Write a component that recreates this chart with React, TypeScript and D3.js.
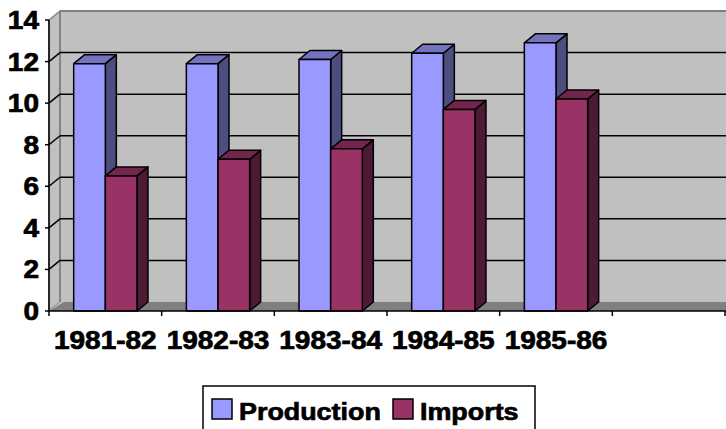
import React from "react";
import * as d3 from "d3";

const categories = ["1981-82", "1982-83", "1983-84", "1984-85", "1985-86", ""];
const seriesNames = ["Production", "Imports"];
const production = [11.9, 11.9, 12.1, 12.4, 12.9];
const imports = [6.5, 7.3, 7.8, 9.7, 10.2];
const yTicks = [0, 2, 4, 6, 8, 10, 12, 14];

const W = 726;
const H = 429;
const DX = 11;
const DY = -9;
const FONT = "'Liberation Sans', Arial, Helvetica, sans-serif";
const SX = 1.12;

const colors: Record<string, { front: string; side: string; top: string }> = {
  Production: { front: "#9999ff", side: "#4d4d80", top: "#7373bf" },
  Imports: { front: "#993366", side: "#4d1a33", top: "#73264d" },
};

export default function App() {
  const x0 = 49;
  const x1 = 725;
  const y = d3.scaleLinear().domain([0, 14]).range([311, 20]);
  const xBand = d3.scaleBand<string>().domain(categories).range([x0, x1]).paddingInner(0).paddingOuter(0);
  const xSeries = d3
    .scaleBand<string>()
    .domain(seriesNames)
    .range([0, xBand.bandwidth()])
    .paddingInner(0)
    .paddingOuter(0.78);

  const base = y(0);
  const top = y(14);
  const bars: { key: string; s: string; x: number; w: number; yv: number }[] = [];
  categories.forEach((c, i) => {
    if (i >= production.length) return;
    const vals: Record<string, number> = { Production: production[i], Imports: imports[i] };
    seriesNames.forEach((s) => {
      bars.push({
        key: c + s,
        s,
        x: (xBand(c) as number) + (xSeries(s) as number),
        w: xSeries.bandwidth(),
        yv: y(vals[s]),
      });
    });
  });

  const pts = (arr: number[][]) => arr.map((p) => p.join(",")).join(" ");
  const textStyle = { fontFamily: FONT, fontWeight: 700 as const };

  return (
    <svg width={W} height={H} style={{ position: "absolute", left: 0, top: 0, background: "#fff" }}>
      {/* back wall */}
      <rect x={x0 + DX} y={top + DY} width={W + 20} height={base - top} fill="#c0c0c0" />
      {/* left wall */}
      <polygon
        points={pts([
          [x0, base],
          [x0, top],
          [x0 + DX, top + DY],
          [x0 + DX, base + DY],
        ])}
        fill="#c0c0c0"
        stroke="#808080"
        strokeWidth={1.5}
      />
      {/* floor */}
      <polygon
        points={pts([
          [x0, base],
          [x0 + DX, base + DY],
          [W + 20, base + DY],
          [W + 20, base],
        ])}
        fill="#808080"
      />
      <polygon
        points={pts([
          [x0, base],
          [x0 + DX, base + DY],
          [x0 + DX + 4, base + DY],
        ])}
        fill="#c0c0c0"
      />
      {/* top edge */}
      <line x1={x0 + DX} x2={W + 20} y1={top + DY} y2={top + DY} stroke="#808080" strokeWidth={2} />
      <line x1={x0 + DX} x2={x0 + DX} y1={top + DY} y2={base + DY} stroke="#808080" strokeWidth={1.5} />
      {/* gridlines */}
      {yTicks
        .filter((t) => t > 0 && t < 14)
        .map((t) => (
          <g key={"g" + t}>
            <line x1={x0 + DX} x2={W + 20} y1={y(t) + DY} y2={y(t) + DY} stroke="#000" strokeWidth={1.5} />
            <line x1={x0} x2={x0 + DX} y1={y(t)} y2={y(t) + DY} stroke="#000" strokeWidth={1.5} />
          </g>
        ))}
      {/* bars */}
      {bars.map((b) => {
        const c = colors[b.s];
        return (
          <g key={b.key} stroke="#000" strokeWidth={1.5} strokeLinejoin="round">
            <polygon
              points={pts([
                [b.x + b.w, b.yv],
                [b.x + b.w + DX, b.yv + DY],
                [b.x + b.w + DX, base + DY],
                [b.x + b.w, base],
              ])}
              fill={c.side}
            />
            <polygon
              points={pts([
                [b.x, b.yv],
                [b.x + DX, b.yv + DY],
                [b.x + b.w + DX, b.yv + DY],
                [b.x + b.w, b.yv],
              ])}
              fill={c.top}
            />
            <rect x={b.x} y={b.yv} width={b.w} height={base - b.yv} fill={c.front} />
          </g>
        );
      })}
      {/* axes */}
      <line x1={x0} x2={x0} y1={top} y2={base} stroke="#000" strokeWidth={1.5} />
      <line x1={x0} x2={W + 20} y1={base} y2={base} stroke="#000" strokeWidth={1.5} />
      {yTicks.map((t) => (
        <g key={"yt" + t}>
          <line x1={x0 - 4} x2={x0} y1={y(t)} y2={y(t)} stroke="#000" strokeWidth={1.5} />
          <g transform={`translate(${x0 - 10},${y(t) + 9}) scale(${SX},1)`}>
            <text textAnchor="end" style={textStyle} fontSize={25} fill="#000" stroke="#000" strokeWidth={0.7}>
              {t}
            </text>
          </g>
        </g>
      ))}
      {categories.map((c, i) => (
        <line
          key={"xt" + i}
          x1={xBand(c) as number}
          x2={xBand(c) as number}
          y1={base}
          y2={base + 5}
          stroke="#000"
          strokeWidth={1.5}
        />
      ))}
      <line x1={x1} x2={x1} y1={base} y2={base + 5} stroke="#000" strokeWidth={1.5} />
      {categories.map((c) => (
        <g key={"xl" + c} transform={`translate(${(xBand(c) as number) + xBand.bandwidth() / 2},349) scale(${SX},1)`}>
          <text textAnchor="middle" style={textStyle} fontSize={25} fill="#000" stroke="#000" strokeWidth={0.7}>
            {c}
          </text>
        </g>
      ))}
      {/* legend */}
      <rect x={203} y={386} width={332} height={60} fill="#fff" stroke="#000" strokeWidth={1.5} />
      {seriesNames.map((s, i) => {
        const lx = i === 0 ? 212 : 393;
        return (
          <g key={"lg" + s}>
            <rect x={lx} y={399} width={20} height={20} fill={colors[s].front} stroke="#000" strokeWidth={1.5} />
            <g transform={`translate(${lx + 27},420) scale(${SX},1)`}>
              <text style={textStyle} fontSize={24} fill="#000" stroke="#000" strokeWidth={0.7}>
                {s}
              </text>
            </g>
          </g>
        );
      })}
    </svg>
  );
}
